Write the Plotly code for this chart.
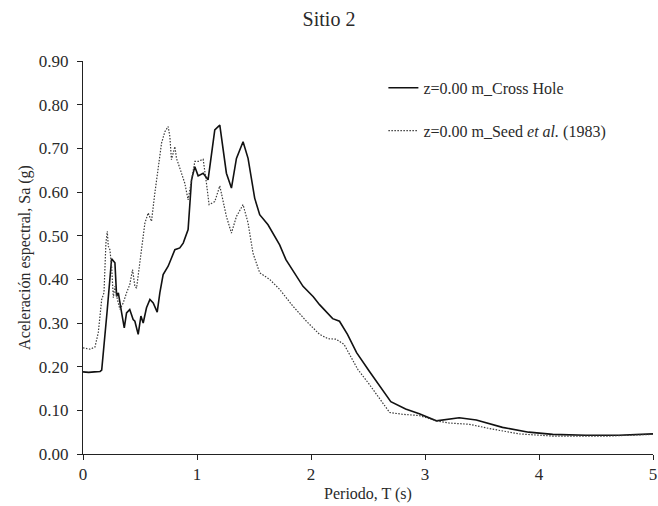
import plotly.graph_objects as go

# Cross Hole series
t_cross = [0, 0.05, 0.10, 0.15, 0.164, 0.19, 0.213, 0.251, 0.28, 0.295, 0.31, 0.339, 0.362, 0.382,
           0.41, 0.44, 0.455, 0.484, 0.508, 0.528, 0.557, 0.587, 0.616, 0.651, 0.674, 0.703,
           0.747, 0.806, 0.849, 0.879, 0.922, 0.952, 0.981, 1.01, 1.054, 1.097, 1.156, 1.2,
           1.258, 1.302, 1.346, 1.404, 1.448, 1.506, 1.55, 1.623, 1.725, 1.78, 1.93, 2.02,
           2.075, 2.19, 2.25, 2.32, 2.40, 2.51, 2.62, 2.70, 2.83, 2.95, 3.10, 3.20, 3.30,
           3.45, 3.68, 3.91, 4.12, 4.41, 4.70, 5.00]
sa_cross = [0.188, 0.187, 0.188, 0.189, 0.192, 0.26, 0.331, 0.447, 0.438, 0.361, 0.369, 0.323, 0.289, 0.323,
            0.331, 0.308, 0.304, 0.274, 0.316, 0.300, 0.335, 0.354, 0.346, 0.325, 0.369, 0.411,
            0.430, 0.468, 0.472, 0.483, 0.514, 0.628, 0.658, 0.637, 0.643, 0.628, 0.742, 0.753,
            0.643, 0.609, 0.677, 0.715, 0.677, 0.586, 0.548, 0.525, 0.479, 0.445, 0.384, 0.36,
            0.342, 0.310, 0.304, 0.274, 0.232, 0.190, 0.148, 0.120, 0.103, 0.092, 0.076, 0.080, 0.083,
            0.078, 0.061, 0.050, 0.045, 0.043, 0.043, 0.046]

# Seed et al. (1983) series
t_seed = [0, 0.061, 0.105, 0.134, 0.164, 0.184, 0.201, 0.213, 0.222, 0.236, 0.251, 0.266, 0.28, 0.295,
          0.324, 0.353, 0.382, 0.41, 0.435, 0.455, 0.47, 0.499, 0.514, 0.543, 0.572, 0.601, 0.63,
          0.66, 0.689, 0.718, 0.747, 0.762, 0.776, 0.806, 0.82, 0.849, 0.893, 0.922, 0.966, 0.981,
          1.01, 1.054, 1.083, 1.106, 1.156, 1.2, 1.258, 1.302, 1.346, 1.404, 1.448, 1.491, 1.55,
          1.637, 1.725, 1.84, 1.96, 2.075, 2.15, 2.22, 2.29, 2.35, 2.41, 2.51, 2.62, 2.69, 2.80,
          2.95, 3.10, 3.21, 3.39, 3.59, 3.83, 4.12, 4.60, 5.00]
sa_seed = [0.243, 0.240, 0.245, 0.278, 0.354, 0.369, 0.483, 0.510, 0.476, 0.468, 0.430, 0.358, 0.384, 0.361,
           0.331, 0.346, 0.369, 0.388, 0.422, 0.384, 0.380, 0.445, 0.476, 0.529, 0.552, 0.533, 0.597,
           0.658, 0.712, 0.738, 0.750, 0.727, 0.674, 0.704, 0.677, 0.655, 0.620, 0.582, 0.643, 0.670,
           0.670, 0.675, 0.620, 0.571, 0.578, 0.614, 0.544, 0.506, 0.544, 0.571, 0.529, 0.460, 0.415,
           0.400, 0.377, 0.339, 0.304, 0.274, 0.264, 0.263, 0.251, 0.224, 0.194, 0.160, 0.122, 0.095, 0.091,
           0.088, 0.076, 0.071, 0.068, 0.057, 0.046, 0.041, 0.041, 0.045]

FONT = "Liberation Serif, Times New Roman, serif"
TXT = "#2a2a2a"

fig = go.Figure()
fig.add_trace(go.Scatter(x=t_cross, y=sa_cross, mode="lines", name="z=0.00 m_Cross Hole",
                         legendgroup="a", line=dict(color="#111111", width=1.6)))
fig.add_trace(go.Scatter(x=t_seed, y=sa_seed, mode="lines",
                         name="z=0.00 m_Seed <i>et al.</i> (1983)", legendgroup="b",
                         line=dict(color="#3a3a3a", width=1.2, dash="1.5px,1.5px")))

fig.update_layout(
    width=658, height=506,
    margin=dict(l=83, r=5, t=61, b=52),
    paper_bgcolor="white", plot_bgcolor="white",
    font=dict(family=FONT, size=17, color=TXT),
    title=dict(text="Sitio 2", x=0.5, xanchor="center", xref="container", y=1 - 19 / 506,
               yanchor="middle", yref="container", font=dict(size=20, family=FONT, color=TXT)),
    showlegend=True,
    legend=dict(x=0.527, y=0.975, xanchor="left", yanchor="top", bgcolor="rgba(0,0,0,0)",
                tracegroupgap=19, traceorder="grouped", font=dict(size=16, family=FONT, color=TXT)),
    xaxis=dict(range=[0, 5], dtick=1, tickformat="d", ticks="outside", ticklen=5, tickcolor="#222",
               showline=True, linecolor="#222", linewidth=1, showgrid=False, zeroline=False,
               automargin=False, ticklabeloverflow="allow",
               tickfont=dict(size=17, family=FONT, color=TXT),
               title=dict(text="Periodo, T (s)", standoff=4, font=dict(size=16, family=FONT, color=TXT))),
    yaxis=dict(range=[0, 0.9], dtick=0.1, tickformat=".2f", ticks="outside", ticklen=5, tickcolor="#222",
               showline=True, linecolor="#222", linewidth=1, showgrid=False, zeroline=False,
               automargin=False, ticklabelstandoff=5,
               tickfont=dict(size=17, family=FONT, color=TXT),
               title=dict(text="Aceleración espectral, Sa (g)", standoff=4,
                          font=dict(size=16, family=FONT, color=TXT))),
)

fig.write_html("out.html", config={"displayModeBar": False},
               post_script="document.body.style.margin='0';document.body.style.overflow='hidden';")
